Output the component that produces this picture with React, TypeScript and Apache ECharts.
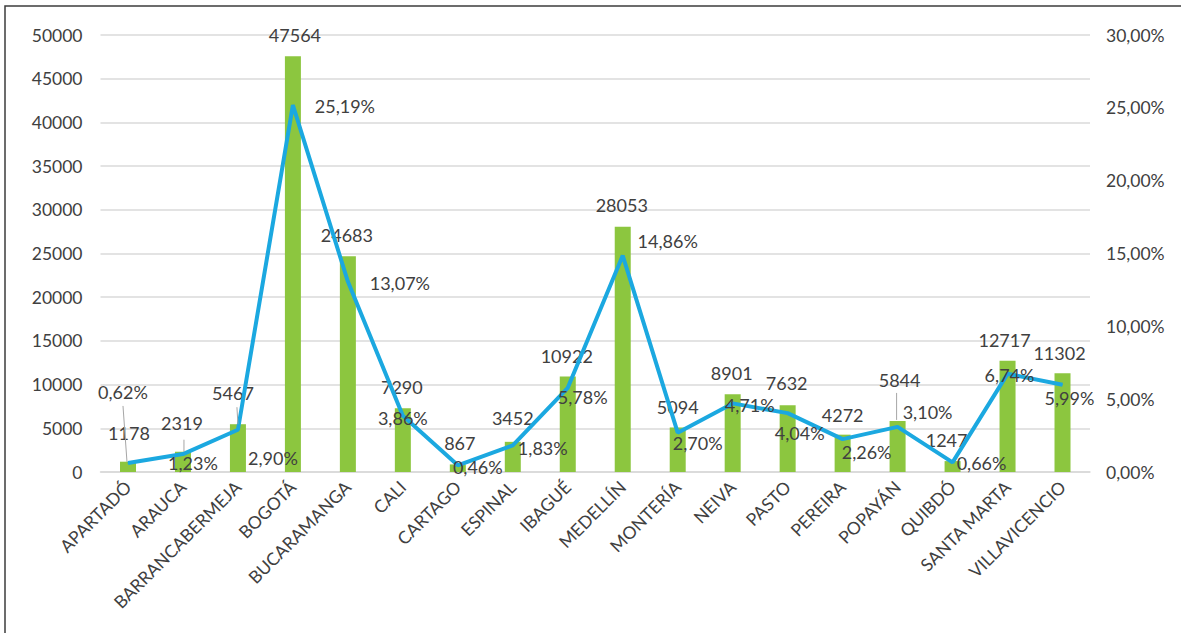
import React, { useEffect, useRef } from 'react';
import * as echarts from 'echarts';

const categories = [
  'APARTADÓ', 'ARAUCA', 'BARRANCABERMEJA', 'BOGOTÁ', 'BUCARAMANGA', 'CALI',
  'CARTAGO', 'ESPINAL', 'IBAGUÉ', 'MEDELLÍN', 'MONTERÍA', 'NEIVA', 'PASTO',
  'PEREIRA', 'POPAYÁN', 'QUIBDÓ', 'SANTA MARTA', 'VILLAVICENCIO',
];
const cases = [1178, 2319, 5467, 47564, 24683, 7290, 867, 3452, 10922, 28053, 5094, 8901, 7632, 4272, 5844, 1247, 12717, 11302];
const shares = [0.62, 1.23, 2.9, 25.19, 13.07, 3.86, 0.46, 1.83, 5.78, 14.86, 2.7, 4.71, 4.04, 2.26, 3.1, 0.66, 6.74, 5.99];

const leftAxis = { min: 0, max: 50000, interval: 5000 };
const rightAxis = { min: 0, max: 30, interval: 5 };

// label placement shifts (layout only), relative to bar top centre / line point
const barLabelShift: [number, number][] = [
  [1, -29], [-1, -29], [-5, -31], [2, -21], [-1, -21], [-1, -21], [2, -21], [0, -24], [-1, -21],
  [-1, -22], [0, -20], [-1, -21], [-1, -22], [0, -20], [2, -41], [-6, -21], [-3, -21], [-3, -20],
];
const lineLabelShift: [number, number][] = [
  [-5, -71], [10, 9], [35, 28], [52, 1], [52, 1], [0, 2], [20, 2], [30, 3], [15, 9],
  [45, -15], [20, 10], [17, 2], [12, 20], [24, 13], [30, -15], [29, 1], [2, 1], [7, 13],
];

const FONT = 'Lato, "Open Sans", sans-serif';
const fmtPct = (v: number) => `${v.toFixed(2).replace('.', ',')}%`;

export default function App() {
  const ref = useRef<HTMLDivElement>(null);
  useEffect(() => {
    document.body.style.margin = '0';
    const chart = echarts.init(ref.current!, undefined, { renderer: 'svg' });
    chart.setOption({
      animation: false,
      backgroundColor: '#ffffff',
      textStyle: { fontFamily: FONT },
      grid: { left: 100.5, right: 91, top: 35, bottom: 161, containLabel: false, outerBoundsMode: 'none' },
      xAxis: {
        type: 'category',
        data: categories,
        axisTick: { show: false },
        axisLine: { lineStyle: { color: '#d9d9d9', width: 1.5 } },
        axisLabel: { rotate: 45, margin: 12, color: '#404040', fontSize: 17.5, fontFamily: FONT, interval: 0 },
      },
      yAxis: [
        {
          type: 'value',
          ...leftAxis,
          axisLine: { show: false },
          axisTick: { show: false },
          axisLabel: { color: '#404040', fontSize: 17.5, margin: 18, fontFamily: FONT, formatter: (v: number) => String(v) },
          splitLine: { lineStyle: { color: '#dadada', width: 1.5 } },
        },
        {
          type: 'value',
          ...rightAxis,
          axisLine: { show: false },
          axisTick: { show: false },
          splitLine: { show: false },
          axisLabel: { color: '#404040', fontSize: 17.5, margin: 16, fontFamily: FONT, formatter: (v: number) => fmtPct(v) },
        },
      ],
      series: [
        {
          type: 'bar',
          data: cases,
          barWidth: 16,
          itemStyle: { color: '#8cc63f' },
          label: { show: true, position: 'top', color: '#404040', fontSize: 18, fontFamily: FONT },
          labelLayout: (p: any) => {
            const s = barLabelShift[p.dataIndex];
            return { x: p.rect.x + p.rect.width / 2 + s[0], y: p.rect.y + s[1], align: 'center', verticalAlign: 'middle' };
          },
          z: 2,
        },
        {
          type: 'line',
          yAxisIndex: 1,
          data: shares,
          symbol: 'circle',
          symbolSize: 1,
          showSymbol: true,
          lineStyle: { color: '#1ba8e0', width: 4 },
          itemStyle: { color: '#1ba8e0' },
          label: { show: true, position: 'top', color: '#404040', fontSize: 18, fontFamily: FONT, formatter: (p: any) => fmtPct(p.value) },
          labelLayout: (p: any) => {
            const s = lineLabelShift[p.dataIndex];
            return { x: p.rect.x + p.rect.width / 2 + s[0], y: p.rect.y + p.rect.height / 2 + s[1], align: 'center', verticalAlign: 'middle' };
          },
          z: 3,
        },
      ],
    });

    // leader lines from labels to their marks, positioned with the chart's own scales
    const px = (i: number, v: number, axis: number) =>
      chart.convertToPixel({ xAxisIndex: 0, yAxisIndex: axis }, [i, v]) as number[];
    const leaders: any[] = [];
    const addLeader = (a: number[], b: number[]) =>
      leaders.push({ type: 'line', shape: { x1: a[0], y1: a[1], x2: b[0], y2: b[1] }, style: { stroke: '#a6a6a6', lineWidth: 1 }, z: 10 });
    const p0 = px(0, shares[0], 1);
    addLeader([p0[0] - 5, p0[1] - 57], [p0[0] - 1, p0[1] - 1]);
    const p1 = px(1, cases[1], 0);
    addLeader([p1[0] + 1, p1[1] - 12], [p1[0] + 1, p1[1]]);
    const p2 = px(2, cases[2], 0);
    addLeader([p2[0] - 1, p2[1] - 17], [p2[0], p2[1]]);
    const p14 = px(14, cases[14], 0);
    addLeader([p14[0] - 1, p14[1] - 28], [p14[0] - 1, p14[1] - 1]);

    chart.setOption({
      graphic: [
        { type: 'rect', shape: { x: 5, y: 6, width: 1300, height: 800 }, style: { fill: 'none', stroke: '#3c3c3c', lineWidth: 1.5 }, silent: true, z: 20 },
        ...leaders,
      ],
    });
    return () => chart.dispose();
  }, []);
  return <div ref={ref} style={{ position: 'fixed', left: 0, top: 0, width: 1181, height: 633, background: '#fff' }} />;
}
